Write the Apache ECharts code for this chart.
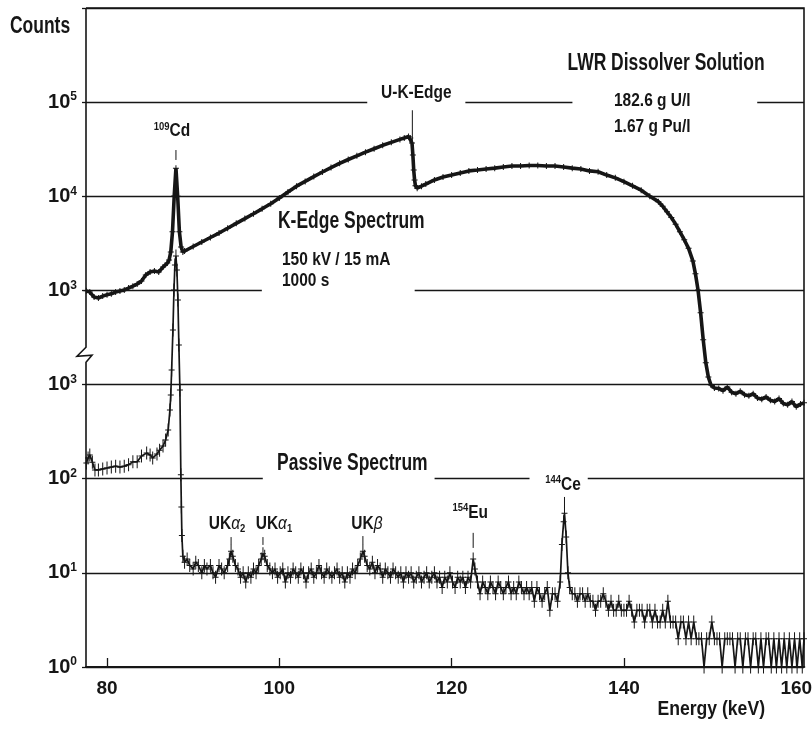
<!DOCTYPE html>
<html>
<head>
<meta charset="utf-8">
<script src="https://cdn.jsdelivr.net/npm/echarts@6/dist/echarts.min.js"></script>
<style>
  html, body { margin: 0; padding: 0; background: #fff; }
  #chart { width: 812px; height: 729px; }
</style>
</head>
<body>
<div id="chart"></div>
<script>
// ---- K-edge spectrum (150 kV / 15 mA, 1000 s): energy (keV) and counts ----
const kEdgeEnergy = [
  77.6, 78.0, 78.5, 79.0, 79.5, 80.0, 80.5, 81.0, 81.5, 82.0, 82.5, 83.0, 83.5, 84.0, 84.5, 85.0,
  85.5, 86.0, 86.5, 87.0, 87.2, 87.4, 87.6, 87.8, 88.0, 88.2, 88.4, 88.6, 88.8, 89.0, 90.0,
  91.0, 92.0, 93.0, 94.0, 95.0, 96.0, 97.0, 98.0, 99.0, 100, 101, 102, 103, 104, 105,
  106, 107, 108, 109, 110, 111, 112, 113, 114, 114.5, 115.0, 115.2, 115.4, 115.5, 115.6, 115.7,
  115.8, 116.0, 116.5, 117, 118, 119, 120, 121, 122, 123, 124, 125, 126, 127, 128, 129,
  130, 131, 132, 133, 134, 135, 136, 137, 138, 139, 140, 141, 142, 143, 144, 144.5,
  145, 145.5, 146, 146.5, 147, 147.5, 148, 148.3, 148.6, 148.9, 149.2, 149.5, 149.8, 150.1, 150.5, 151,
  151.5, 152, 152.5, 153, 153.5, 154, 154.5, 155, 155.5, 156, 156.5, 157, 157.5, 158, 158.5, 159,
  159.5, 160, 160.5, 160.9
];
const kEdgeCounts = [
  990, 960, 850, 830, 870, 900, 920, 960, 985, 1010, 1060, 1110, 1170, 1260, 1460, 1570,
  1610, 1570, 1770, 1950, 2100, 2560, 4200, 10100, 19900, 10000, 4200, 2900, 2560, 2620, 2930,
  3270, 3650, 4070, 4580, 5160, 5800, 6530, 7360, 8340, 9590, 11100, 12800, 14400, 16200, 18100,
  20200, 22400, 24600, 26900, 29400, 32000, 34800, 37400, 40200, 41600, 43200, 41500, 36800, 27500, 19000, 14900,
  12900, 12200, 12800, 13500, 14900, 16000, 16800, 17700, 18600, 19000, 19500, 19900, 20500, 21000, 21000, 21200,
  21200, 21000, 21000, 20500, 19900, 19500, 18600, 18200, 16800, 15700, 14300, 12900, 11600, 10000, 8770, 7840,
  6840, 5950, 5060, 4190, 3460, 2800, 2060, 1500, 1010, 580, 300, 171, 120, 99, 92, 91,
  86, 94, 83, 80, 85, 78, 76, 80, 72, 70, 74, 68, 66, 71, 63, 61,
  66, 58, 62, 64
];

// ---- Passive spectrum: energy (keV) and counts ----
const passiveEnergy = [
  77.6, 77.8, 78.0, 78.3, 78.6, 79.0, 79.5, 80.0, 80.5, 81.0, 81.5, 82.0, 82.5, 83.0, 83.5, 84.0,
  84.6, 85.0, 85.3, 85.8, 86.1, 86.5, 86.8, 87.1, 87.3, 87.4, 87.5, 87.65, 87.77, 87.88, 88.0, 88.11,
  88.23, 88.34, 88.46, 88.57, 88.63, 88.69, 88.8,
  89.0, 89.3, 89.6, 90.0, 90.3, 90.6, 91.0, 91.3, 91.6, 92.0, 92.3, 92.6, 93.0, 93.3, 93.6, 94.0,
  94.2, 94.4, 94.6, 94.9, 95.2, 95.5, 95.8, 96.1, 96.4, 96.7, 97.0, 97.3, 97.6, 97.9, 98.1, 98.3,
  98.6, 98.9, 99.2, 99.5, 99.8, 100.1, 100.4, 100.7, 101.0, 101.3, 101.6, 101.9, 102.2, 102.5, 102.8, 103.1,
  103.4, 103.7, 104.0, 104.3, 104.6, 104.9, 105.2, 105.5, 105.8, 106.1, 106.4, 106.7, 107.0, 107.3, 107.6, 107.9,
  108.2, 108.5, 108.8, 109.1, 109.4, 109.7, 109.9, 110.2, 110.5, 110.8, 111.1, 111.4, 111.7, 112.0, 112.3, 112.6,
  112.9, 113.2, 113.5, 113.8, 114.1, 114.4, 114.7, 115.0, 115.3, 115.6, 115.9, 116.2, 116.5, 116.8, 117.1, 117.4,
  117.7, 118.0, 118.3, 118.6, 118.9, 119.2, 119.5, 119.8, 120.1, 120.4, 120.7, 121.0, 121.3, 121.6, 121.9, 122.2,
  122.5, 122.7, 123.0, 123.3, 123.6, 123.9, 124.2, 124.5, 124.8, 125.1, 125.4, 125.7, 126.0, 126.3, 126.6, 126.9,
  127.2, 127.5, 127.8, 128.1, 128.4, 128.7, 129.0, 129.3, 129.6, 129.9, 130.2, 130.5, 130.8, 131.1, 131.4, 131.7,
  132.0, 132.3, 132.6, 132.8, 133.0, 133.1, 133.3, 133.5, 133.7, 134.0, 134.3, 134.6, 134.9, 135.2, 135.5, 135.8,
  136.1, 136.4, 136.7, 137.0, 137.3, 137.6, 137.9, 138.2, 138.5, 138.8, 139.1, 139.4, 139.7, 140.0, 140.3, 140.6,
  140.9, 141.2, 141.5, 141.8, 142.1, 142.4, 142.7, 143.0, 143.3, 143.6, 143.9, 144.2, 144.5, 144.8, 145.1, 145.4,
  145.7, 146.0, 146.3, 146.6, 146.9, 147.2, 147.5, 147.8, 148.1, 148.4, 148.7, 149.0, 149.3, 149.6, 149.9, 150.2,
  150.5, 150.8, 151.1, 151.4, 151.7, 152.0, 152.3, 152.6, 152.9, 153.2, 153.5, 153.8, 154.1, 154.4, 154.7, 155.0,
  155.3, 155.6, 155.9, 156.2, 156.5, 156.8, 157.1, 157.4, 157.7, 158.0, 158.3, 158.6, 158.9, 159.2, 159.5, 159.8,
  160.1, 160.4, 160.7, 160.9
];
const passiveCounts = [
  147, 166, 179, 150, 124, 124, 127, 130, 133, 136, 133, 136, 141, 151, 151, 174,
  187, 179, 166, 183, 201, 222, 258, 329, 537, 774, 1430, 3800, 10100, 18600, 23200, 16500,
  7910, 2640, 875, 110, 50, 25, 15,
  13, 14, 12, 11, 13, 12, 10, 12, 11, 12, 10, 9, 12, 11, 10, 12,
  14, 17, 15, 12, 11, 9, 10, 8, 10, 9, 11, 10, 12, 14, 16, 15,
  12, 11, 10, 11, 9, 10, 11, 8, 10, 9, 11, 10, 9, 11, 10, 8,
  10, 11, 9, 10, 12, 10, 9, 11, 10, 9, 10, 11, 9, 10, 8, 10,
  9, 11, 10, 12, 14, 17, 15, 12, 11, 13, 10, 12, 11, 9, 11, 10,
  9, 11, 10, 9, 10, 8, 10, 9, 10, 8, 9, 10, 8, 9, 10, 8,
  9, 10, 8, 9, 7, 9, 8, 10, 8, 7, 9, 8, 9, 7, 9, 8,
  14, 11, 8, 6, 8, 7, 6, 8, 7, 6, 8, 7, 6, 7, 8, 6,
  7, 6, 8, 7, 6, 7, 6, 7, 5, 7, 6, 5, 6, 7, 4, 6,
  6, 5, 8, 20, 35, 43, 24, 10, 7, 6, 6, 5, 6, 6, 5, 6,
  5, 5, 4, 5, 5, 6, 5, 4, 5, 4, 4, 5, 4, 4, 4, 5,
  4, 3, 4, 4, 4, 3, 4, 4, 3, 4, 3, 3, 4, 3, 5, 3,
  3, 3, 2, 3, 3, 2, 3, 2, 3, 2, 2, 2, 1, 2, 2, 3,
  2, 2, 2, 1, 2, 2, 2, 2, 1, 2, 2, 1, 2, 2, 1, 2,
  2, 1, 2, 1, 2, 2, 1, 2, 1, 2, 1, 2, 1, 2, 1, 2,
  1, 2, 1, 2
];

// ---- Peak / edge annotations: energy (keV), tick from..to (counts), text ----
const kEdgeMarkEnergy = [88.0, 115.44];
const kEdgeMarkFrom   = [24300, 36000];
const kEdgeMarkTo     = [31000, 82000];
const kEdgeMarkText   = ['{sup|109}{t|Cd}', '{t|U-K-Edge}'];

const passiveMarkEnergy = [94.4, 98.1, 109.7, 122.5, 133.1];
const passiveMarkFrom   = [19.8, 19.8, 19.8, 18.4, 48.9];
const passiveMarkTo     = [24.0, 24.0, 24.6, 26.6, 64.0];
const passiveMarkText   = ['{t|UK}{g|α}{sub|2}', '{t|UK}{g|α}{sub|1}', '{t|UK}{g|β}', '{sup|154}{t|Eu}', '{sup|144}{t|Ce}'];

const xTickValues = [80, 100, 120, 140, 160];
const upperDecadeLabels = [1e3, 1e4, 1e5];
const lowerDecadeLabels = [1, 10, 100, 1e3];

// ---- styling ----
const INK = '#161616';
const FONT = '"Liberation Sans", Arial, sans-serif';
const GRID = { left: 86, right: 8, top: 8, bottom: 62 };
const X_MIN = 77.56, X_MAX = 160.9;
const NARROW = 0.76;     // horizontal squeeze for the condensed headings
const NARROW_S = 0.86;   // ... and for the smaller annotation text

// label offsets (px) for the annotation texts, in the same order as the arrays
const kEdgeMarkLayout = [{ dx: -4, gap: 9 }, { dx: 4, gap: 6, bg: [1, 16, 1, 16] }];
const passiveMarkLayout = [
  { dx: -4, gap: 3 }, { dx: 11, gap: 3 }, { dx: 4, gap: 2 }, { dx: -3, gap: 10 }, { dx: -4, gap: 1, bg: [1, 8, 1, 14] }
];

const RICH = {
  t:   { fontSize: 18, fontWeight: 'bold', fontFamily: FONT, color: INK, lineHeight: 20 },
  sup: { fontSize: 11, fontWeight: 'bold', fontFamily: FONT, color: INK, lineHeight: 11, verticalAlign: 'top' },
  sub: { fontSize: 11, fontWeight: 'bold', fontFamily: FONT, color: INK, lineHeight: 11, verticalAlign: 'bottom' },
  g:   { fontSize: 18, fontStyle: 'italic', fontFamily: FONT, color: INK, lineHeight: 20 }
};
const AXIS_RICH = {
  b: { fontSize: 20, fontWeight: 'bold', fontFamily: FONT, color: INK, lineHeight: 22 },
  s: { fontSize: 12, fontWeight: 'bold', fontFamily: FONT, color: INK, lineHeight: 12, verticalAlign: 'top' }
};

const zip = (xs, ys) => xs.map((x, i) => [x, ys[i]]);
const plusSym = 'path://M2.5,0h1v6h-1z M0,2.5h6v1h-6z';
const plusBar = 'path://M2.5,0h1v13h-1z M0,6h6v1h-6z';

function annotationSeries(idx, energy, from, to, texts, layout) {
  return {
    type: 'custom', xAxisIndex: idx, yAxisIndex: idx, clip: false, silent: true, z: 6,
    data: energy.map((e, i) => [e, from[i], to[i]]),
    encode: { x: 0, y: [1, 2] },
    renderItem(params, api) {
      const i = params.dataIndex, lay = layout[i];
      const p0 = api.coord([api.value(0), api.value(1)]);
      const p1 = api.coord([api.value(0), api.value(2)]);
      const style = { text: texts[i], rich: RICH, align: 'center', verticalAlign: 'bottom', fill: INK };
      if (lay.bg) { style.backgroundColor = '#fff'; style.padding = lay.bg; }
      return {
        type: 'group',
        children: [
          { type: 'line', shape: { x1: p0[0], y1: p0[1], x2: p1[0], y2: p1[1] }, style: { stroke: INK, lineWidth: 1 } },
          { type: 'text', x: p1[0] + lay.dx, y: p1[1] - lay.gap, scaleX: NARROW_S, style }
        ]
      };
    }
  };
}

const decadeLabel = (allowed) => (v) => {
  const hit = allowed.some(a => Math.abs(a - v) / a < 1e-6);
  return hit ? '{b|10}{s|' + Math.round(Math.log10(v)) + '}' : '';
};

const chart = echarts.init(document.getElementById('chart'), null, { renderer: 'canvas' });

const gridBox = { left: GRID.left, right: GRID.right, top: GRID.top, bottom: GRID.bottom, containLabel: false, outerBoundsMode: 'none' };

chart.setOption({
  animation: false,
  backgroundColor: '#fff',
  grid: [Object.assign({}, gridBox), Object.assign({}, gridBox)],
  xAxis: [
    { gridIndex: 0, type: 'value', min: X_MIN, max: X_MAX, show: false },
    {
      gridIndex: 1, type: 'value', min: X_MIN, max: X_MAX, splitNumber: 4,
      axisLine: { show: true, lineStyle: { color: INK, width: 2 } },
      axisTick: { show: true, inside: true, length: 9, lineStyle: { color: INK, width: 1.3 } },
      splitLine: { show: false },
      axisLabel: {
        showMinLabel: false, showMaxLabel: false, margin: 12,
        color: INK, fontSize: 19, fontWeight: 'bold', fontFamily: FONT,
        formatter: (v) => xTickValues.indexOf(Math.round(v)) >= 0 && Math.abs(v - Math.round(v)) < 1e-6 ? String(Math.round(v)) : ''
      }
    }
  ],
  yAxis: [
    {
      gridIndex: 0, type: 'log', logBase: 10, min: 0.1, max: 1e6,
      axisLine: { show: false }, axisTick: { show: false }, splitLine: { show: false },
      axisLabel: { margin: 9, formatter: decadeLabel(upperDecadeLabels), rich: AXIS_RICH }
    },
    {
      gridIndex: 1, type: 'log', logBase: 10, min: 1, max: 1e7,
      axisLine: { show: false },
      axisTick: { show: true, length: 4, lineStyle: { color: INK, width: 1.3 } },
      splitLine: { show: true, lineStyle: { color: INK, width: 1.3 } },
      axisLabel: { margin: 9, formatter: decadeLabel(lowerDecadeLabels), rich: AXIS_RICH }
    }
  ],
  series: [
    {
      name: 'K-Edge Spectrum', type: 'line', xAxisIndex: 0, yAxisIndex: 0, z: 4,
      data: zip(kEdgeEnergy, kEdgeCounts),
      symbol: plusSym, symbolSize: 6, showSymbol: true,
      lineStyle: { color: INK, width: 3.6 }, itemStyle: { color: INK }
    },
    {
      name: 'Passive Spectrum', type: 'line', xAxisIndex: 1, yAxisIndex: 1, z: 4,
      data: zip(passiveEnergy, passiveCounts),
      symbol: plusBar, symbolSize: [6, 13], showSymbol: true,
      lineStyle: { color: INK, width: 1.7 }, itemStyle: { color: INK }
    },
    annotationSeries(0, kEdgeMarkEnergy, kEdgeMarkFrom, kEdgeMarkTo, kEdgeMarkText, kEdgeMarkLayout),
    annotationSeries(1, passiveMarkEnergy, passiveMarkFrom, passiveMarkTo, passiveMarkText, passiveMarkLayout)
  ]
});

// ---- frame, axis break, text blocks and gaps in the decade lines ----
const px = (gridIdx, e, v) => chart.convertToPixel({ xAxisIndex: gridIdx, yAxisIndex: gridIdx }, [e, v]);
const L = GRID.left, R = 812 - GRID.right, T = GRID.top, B = 729 - GRID.bottom;
const yBreak = px(1, X_MIN, 2000)[1];

// gaps in the decade lines behind the free text
const lineGaps = [
  { grid: 0, v: 1e5, e0: 110.26, e1: 120.92 },
  { grid: 0, v: 1e5, e0: 134.02, e1: 155.47 },
  { grid: 0, v: 1e3, e0: 97.97, e1: 115.71 },
  { grid: 1, v: 100, e0: 98.08, e1: 118.02 },
  { grid: 1, v: 100, e0: 129.04, e1: 135.42 }
];

const txt = (text, x, y, size, align, squeeze) => ({
  type: 'text', x, y, z: 20, scaleX: squeeze,
  style: { text, fill: INK, font: 'bold ' + size + 'px ' + FONT, align: align || 'left', verticalAlign: 'middle' }
});

const graphics = [];
lineGaps.forEach(g => {
  const a = px(g.grid, g.e0, g.v), b = px(g.grid, g.e1, g.v);
  graphics.push({ type: 'rect', z: 1, shape: { x: a[0], y: a[1] - 3, width: b[0] - a[0], height: 6 }, style: { fill: '#fff' } });
});
graphics.push(
  { type: 'polyline', z: 15, shape: { points: [[L, T], [R, T], [R, B]] }, style: { stroke: INK, lineWidth: 1.6, fill: null } },
  {
    type: 'polyline', z: 15,
    shape: { points: [[L, T], [L, yBreak - 9], [L - 9, yBreak], [L + 6, yBreak - 1], [L, yBreak + 6], [L, B]] },
    style: { stroke: INK, lineWidth: 1.6, fill: null }
  },
  txt('Counts', 40, 27, 23, 'center', NARROW),
  txt('LWR Dissolver Solution', 666, 64, 23, 'center', NARROW),
  txt('182.6 g U/l', 614, 101, 18, 'left', NARROW_S),
  txt('1.67 g Pu/l', 614, 127, 18, 'left', NARROW_S),
  txt('K-Edge Spectrum', 278, 222, 23, 'left', NARROW),
  txt('150 kV / 15 mA', 282, 260, 18, 'left', NARROW_S),
  txt('1000 s', 282, 281, 18, 'left', NARROW_S),
  txt('Passive Spectrum', 277, 464, 23, 'left', NARROW),
  txt('Energy (keV)', 765, 709, 20, 'right', 0.88)
);
chart.setOption({ graphic: { elements: graphics } });
</script>
</body>
</html>
